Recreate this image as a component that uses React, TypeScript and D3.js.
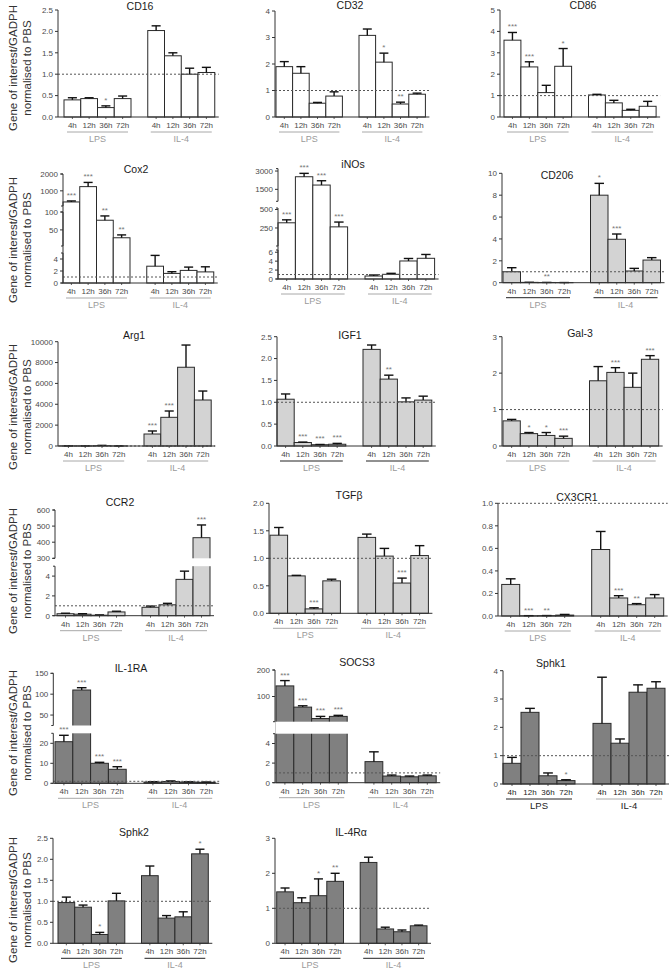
import React from 'react';
import * as d3 from 'd3';

const FONT = "'Liberation Sans', Arial, Helvetica, sans-serif";

const times = ['4h', '12h', '36h', '72h'];
const groups = ['LPS', 'IL-4'];

// ---------- data (means, SEM, significance) ----------
const cd16Mean = [0.40, 0.43, 0.22, 0.43, 2.02, 1.43, 1.00, 1.04];
const cd16Sem = [0.05, 0.02, 0.04, 0.06, 0.11, 0.07, 0.14, 0.12];
const cd16Stars = ['', '', '*', '', '', '', '', ''];
const cd16Ticks = [0, 0.5, 1, 1.5, 2, 2.5];

const cd32Mean = [1.90, 1.65, 0.52, 0.79, 3.08, 2.07, 0.49, 0.86];
const cd32Sem = [0.19, 0.25, 0.03, 0.16, 0.24, 0.34, 0.07, 0.04];
const cd32Stars = ['', '', '', '', '', '*', '**', ''];
const cd32Ticks = [0, 1, 2, 3, 4];

const cd86Mean = [3.59, 2.34, 1.14, 2.37, 1.03, 0.66, 0.31, 0.50];
const cd86Sem = [0.36, 0.24, 0.34, 0.83, 0.03, 0.12, 0.05, 0.23];
const cd86Stars = ['***', '***', '', '*', '', '', '', ''];
const cd86Ticks = [0, 1, 2, 3, 4, 5];

const cox2Mean = [340, 1250, 77, 28, 2.8, 1.6, 2.1, 1.85];
const cox2Sem = [60, 250, 12, 8, 1.8, 0.28, 0.55, 0.85];
const cox2Stars = ['***', '***', '**', '**', '', '', '', ''];
const cox2TicksLow = [0, 2, 4];
const cox2TicksMid = [50, 100];
const cox2TicksHigh = [1000, 2000];

const inosMean = [320, 2533, 1852, 265, 0.67, 1.05, 4.04, 4.64];
const inosSem = [40, 277, 353, 65, 0.23, 0.22, 0.56, 0.86];
const inosStars = ['***', '***', '***', '***', '', '', '', ''];
const inosTicksLow = [0, 2, 4, 6];
const inosTicksMid = [250, 500];
const inosTicksHigh = [1500, 3000];

const cd206Mean = [1.0, 0.03, 0.02, 0.01, 8.0, 3.97, 1.07, 2.07];
const cd206Sem = [0.37, 0.005, 0.005, 0.005, 1.08, 0.48, 0.24, 0.22];
const cd206Stars = ['', '', '**', '', '*', '***', '', ''];
const cd206Ticks = [0, 2, 4, 6, 8, 10];

const arg1Mean = [8, 6, 30, 6, 1150, 2750, 7550, 4410];
const arg1Sem = [2, 2, 30, 2, 290, 605, 2130, 860];
const arg1Stars = ['', '', '', '', '***', '***', '', ''];
const arg1Ticks = [0, 2000, 4000, 6000, 8000, 10000];

const igf1Mean = [1.07, 0.08, 0.03, 0.04, 2.21, 1.53, 1.01, 1.05];
const igf1Sem = [0.12, 0.01, 0.005, 0.02, 0.10, 0.09, 0.09, 0.09];
const igf1Stars = ['', '***', '***', '***', '', '**', '', ''];
const igf1Ticks = [0, 0.5, 1, 1.5, 2, 2.5];

const gal3Mean = [0.69, 0.34, 0.29, 0.21, 1.79, 2.02, 1.61, 2.38];
const gal3Sem = [0.04, 0.03, 0.08, 0.06, 0.39, 0.13, 0.39, 0.10];
const gal3Stars = ['', '*', '*', '***', '', '***', '', '***'];
const gal3Ticks = [0, 1, 2, 3];

const ccr2Mean = [0.2, 0.15, 0.05, 0.38, 0.85, 1.1, 3.67, 428];
const ccr2Sem = [0.05, 0.05, 0.03, 0.07, 0.12, 0.15, 0.83, 79];
const ccr2Stars = ['', '', '', '', '', '', '', '***'];
const ccr2TicksLow = [0, 2, 4];
const ccr2TicksHigh = [300, 400, 500, 600];

const tgfbMean = [1.42, 0.68, 0.08, 0.59, 1.38, 1.04, 0.55, 1.05];
const tgfbSem = [0.14, 0.01, 0.02, 0.03, 0.06, 0.14, 0.09, 0.18];
const tgfbStars = ['', '', '***', '', '', '', '***', ''];
const tgfbTicks = [0, 0.5, 1, 1.5, 2];

const cx3cr1Mean = [0.28, 0.002, 0.003, 0.008, 0.59, 0.16, 0.10, 0.16];
const cx3cr1Sem = [0.05, 0.001, 0.001, 0.006, 0.16, 0.02, 0.01, 0.03];
const cx3cr1Stars = ['', '***', '**', '', '', '***', '**', ''];
const cx3cr1Ticks = [0, 0.2, 0.4, 0.6, 0.8, 1.0];

const il1raMean = [20.8, 110, 10, 7, 0.6, 0.9, 0.6, 0.5];
const il1raSem = [3.2, 5.5, 0.5, 1.3, 0.2, 0.3, 0.15, 0.15];
const il1raStars = ['***', '***', '***', '***', '', '', '', ''];
const il1raTicksLow = [0, 10, 20];
const il1raTicksHigh = [50, 100, 150];

const socs3Mean = [140, 60, 17, 25, 2.15, 0.68, 0.6, 0.7];
const socs3Sem = [20, 5, 8, 4, 1.0, 0.1, 0.08, 0.08];
const socs3Stars = ['***', '***', '***', '***', '', '', '', ''];
const socs3TicksLow = [0, 2, 4];
const socs3TicksHigh = [100, 200];

const sphk1Mean = [0.73, 2.53, 0.29, 0.12, 2.14, 1.44, 3.24, 3.38];
const sphk1Sem = [0.21, 0.14, 0.10, 0.03, 1.63, 0.15, 0.26, 0.23];
const sphk1Stars = ['', '', '', '*', '', '', '', ''];
const sphk1Ticks = [0, 1, 2, 3, 4];

const sphk2Mean = [0.97, 0.86, 0.21, 1.01, 1.61, 0.60, 0.63, 2.13];
const sphk2Sem = [0.13, 0.05, 0.05, 0.18, 0.23, 0.06, 0.12, 0.11];
const sphk2Stars = ['', '', '*', '', '', '', '', '*'];
const sphk2Ticks = [0, 0.5, 1, 1.5, 2, 2.5];

const il4raMean = [1.47, 1.16, 1.36, 1.77, 2.31, 0.41, 0.33, 0.50];
const il4raSem = [0.11, 0.14, 0.48, 0.23, 0.15, 0.05, 0.05, 0.02];
const il4raStars = ['', '', '*', '**', '', '', '', ''];
const il4raTicks = [0, 1, 2, 3];

// ---------- layout ----------
type Seg = { domain: [number, number]; range: [number, number]; ticks: number[] };
type Panel = {
  title: string; mean: number[]; sem: number[]; stars: string[]; segs: Seg[];
  fmt: string; fill: string; axisX: number; x0: number; barW: number;
  titleX: number; titleY: number; whiteGaps?: boolean;
  lineCol?: [string, string]; strong?: boolean;
};

const WHITE = '#ffffff';
const LIGHT = '#d3d3d3';
const DARK = '#808080';
const GREYLINE = '#a8a8a8';
const BLACKLINE = '#222';

const panels: Panel[] = [
  { title: 'CD16', mean: cd16Mean, sem: cd16Sem, stars: cd16Stars, fmt: '.1f', fill: WHITE,
    segs: [{ domain: [0, 2.5], range: [117, 10], ticks: cd16Ticks }],
    axisX: 58, x0: 64, barW: 16.75, titleX: 140, titleY: 6 },
  { title: 'CD32', mean: cd32Mean, sem: cd32Sem, stars: cd32Stars, fmt: 'd', fill: WHITE,
    segs: [{ domain: [0, 4], range: [117, 11], ticks: cd32Ticks }],
    axisX: 275, x0: 276, barW: 16.6, titleX: 350, titleY: 5 },
  { title: 'CD86', mean: cd86Mean, sem: cd86Sem, stars: cd86Stars, fmt: 'd', fill: WHITE,
    segs: [{ domain: [0, 5], range: [117, 10], ticks: cd86Ticks }],
    axisX: 500, x0: 504, barW: 16.9, titleX: 583, titleY: 5 },
  { title: 'Cox2', mean: cox2Mean, sem: cox2Sem, stars: cox2Stars, fmt: 'd', fill: WHITE,
    segs: [
      { domain: [0, 5], range: [283, 253], ticks: cox2TicksLow },
      { domain: [5, 100], range: [246, 212], ticks: cox2TicksMid },
      { domain: [100, 2000], range: [206, 174], ticks: cox2TicksHigh },
    ],
    axisX: 63, x0: 63, barW: 16.75, titleX: 136, titleY: 169 },
  { title: 'iNOs', mean: inosMean, sem: inosSem, stars: inosStars, fmt: 'd', fill: WHITE,
    segs: [
      { domain: [0, 6.5], range: [279, 250], ticks: inosTicksLow },
      { domain: [6.5, 520], range: [246, 208], ticks: inosTicksMid },
      { domain: [520, 3200], range: [201.3, 168.6], ticks: inosTicksHigh },
    ],
    axisX: 278, x0: 278, barW: 17.4, titleX: 353, titleY: 164 },
  { title: 'CD206', mean: cd206Mean, sem: cd206Sem, stars: cd206Stars, fmt: 'd', fill: LIGHT,
    segs: [{ domain: [0, 10], range: [282.7, 173.3], ticks: cd206Ticks }],
    axisX: 502, x0: 503, barW: 17.5, titleX: 557, titleY: 175, lineCol: [BLACKLINE, BLACKLINE] },
  { title: 'Arg1', mean: arg1Mean, sem: arg1Sem, stars: arg1Stars, fmt: 'd', fill: LIGHT,
    segs: [{ domain: [0, 10000], range: [446, 341.7], ticks: arg1Ticks }],
    axisX: 58, x0: 60, barW: 16.8, titleX: 134, titleY: 335 },
  { title: 'IGF1', mean: igf1Mean, sem: igf1Sem, stars: igf1Stars, fmt: '.1f', fill: LIGHT,
    segs: [{ domain: [0, 2.5], range: [446, 336.7], ticks: igf1Ticks }],
    axisX: 277, x0: 277, barW: 17.2, titleX: 350, titleY: 335, lineCol: [BLACKLINE, BLACKLINE] },
  { title: 'Gal-3', mean: gal3Mean, sem: gal3Sem, stars: gal3Stars, fmt: 'd', fill: LIGHT,
    segs: [{ domain: [0, 3], range: [446, 336.7], ticks: gal3Ticks }],
    axisX: 502, x0: 503, barW: 17.3, titleX: 580, titleY: 333 },
  { title: 'CCR2', mean: ccr2Mean, sem: ccr2Sem, stars: ccr2Stars, fmt: 'd', fill: LIGHT, whiteGaps: true,
    segs: [
      { domain: [0, 5], range: [615.7, 566.2], ticks: ccr2TicksLow },
      { domain: [300, 600], range: [558.3, 510], ticks: ccr2TicksHigh },
    ],
    axisX: 55, x0: 57, barW: 17, titleX: 120, titleY: 502 },
  { title: 'TGFβ', mean: tgfbMean, sem: tgfbSem, stars: tgfbStars, fmt: '.1f', fill: LIGHT,
    segs: [{ domain: [0, 2], range: [613.3, 503.3], ticks: tgfbTicks }],
    axisX: 269, x0: 270, barW: 17.6, titleX: 349, titleY: 495 },
  { title: 'CX3CR1', mean: cx3cr1Mean, sem: cx3cr1Sem, stars: cx3cr1Stars, fmt: '.1f', fill: LIGHT,
    segs: [{ domain: [0, 1], range: [616, 503.3], ticks: cx3cr1Ticks }],
    axisX: 498, x0: 501.7, barW: 18, titleX: 577, titleY: 497 },
  { title: 'IL-1RA', mean: il1raMean, sem: il1raSem, stars: il1raStars, fmt: 'd', fill: DARK, whiteGaps: true,
    segs: [
      { domain: [0, 25], range: [783.3, 733.3], ticks: il1raTicksLow },
      { domain: [25, 150], range: [725.5, 673.3], ticks: il1raTicksHigh },
    ],
    axisX: 53.3, x0: 55, barW: 17.8, titleX: 131, titleY: 668 },
  { title: 'SOCS3', mean: socs3Mean, sem: socs3Sem, stars: socs3Stars, fmt: 'd', fill: DARK, whiteGaps: true,
    segs: [
      { domain: [0, 5], range: [782.7, 733.7], ticks: socs3TicksLow },
      { domain: [5, 200], range: [721.7, 670], ticks: socs3TicksHigh },
    ],
    axisX: 275, x0: 276, barW: 17.8, titleX: 357, titleY: 662 },
  { title: 'Sphk1', mean: sphk1Mean, sem: sphk1Sem, stars: sphk1Stars, fmt: 'd', fill: DARK,
    segs: [{ domain: [0, 4], range: [784, 670.7], ticks: sphk1Ticks }],
    axisX: 503, x0: 503, barW: 18, titleX: 551, titleY: 663, lineCol: [BLACKLINE, GREYLINE], strong: true },
  { title: 'Sphk2', mean: sphk2Mean, sem: sphk2Sem, stars: sphk2Stars, fmt: '.1f', fill: DARK,
    segs: [{ domain: [0, 2.5], range: [943.3, 838.3], ticks: sphk2Ticks }],
    axisX: 53, x0: 58, barW: 16.7, titleX: 134, titleY: 832, lineCol: [BLACKLINE, BLACKLINE] },
  { title: 'IL-4Rα', mean: il4raMean, sem: il4raSem, stars: il4raStars, fmt: 'd', fill: DARK,
    segs: [{ domain: [0, 3], range: [943.3, 838.3], ticks: il4raTicks }],
    axisX: 275, x0: 276.7, barW: 16.7, titleX: 351, titleY: 832, lineCol: [BLACKLINE, BLACKLINE] },
];

const rowLabelCenters = [68, 240, 407, 571, 733, 900];

const slots = ['L0', 'L1', 'L2', 'L3', 'gap', 'I0', 'I1', 'I2', 'I3'];
const barSlots = ['L0', 'L1', 'L2', 'L3', 'I0', 'I1', 'I2', 'I3'];

function PanelView({ p }: { p: Panel }) {
  const scales = p.segs.map((s) => d3.scaleLinear().domain(s.domain).range(s.range));
  const y = (v: number) => {
    for (let i = p.segs.length - 1; i > 0; i--) {
      if (v >= p.segs[i].domain[0]) return scales[i](v);
    }
    return scales[0](v);
  };
  const x = d3.scaleBand<string>().domain(slots).range([p.x0, p.x0 + 9 * p.barW]).padding(0);
  const bw = x.bandwidth();
  const base = p.segs[0].range[0];
  const end = p.x0 + 9 * p.barW + 4;
  const fmt = d3.format(p.fmt);
  const lineCol = p.lineCol || [GREYLINE, GREYLINE];
  const tickCol = p.strong ? '#222' : '#4a4a4a';
  const groupCol = p.strong ? '#222' : '#9a9a9a';

  const gaps: { y0: number; y1: number }[] = [];
  for (let i = 0; i < p.segs.length - 1; i++) {
    gaps.push({ y0: p.segs[i + 1].range[0], y1: p.segs[i].range[1] });
  }

  return (
    <g>
      <text x={p.titleX} y={p.titleY + 4} textAnchor="middle" fontSize={10.5} fill="#1a1a1a" fontFamily={FONT}>
        {p.title}
      </text>
      {barSlots.map((k, i) => {
        const yt = y(p.mean[i]);
        return (
          <rect key={k} x={x(k)!} y={yt} width={bw} height={Math.max(0, base - yt)}
            fill={p.fill} stroke="#2a2a2a" strokeWidth={1} />
        );
      })}
      {barSlots.map((k, i) => {
        const cx = x(k)! + bw / 2;
        const yt = y(p.mean[i]);
        const ye = y(p.mean[i] + p.sem[i]);
        return (
          <g key={'e' + k} stroke="#111" strokeWidth={1.4}>
            <line x1={cx} x2={cx} y1={yt} y2={ye} />
            <line x1={cx - bw * 0.27} x2={cx + bw * 0.27} y1={ye} y2={ye} />
          </g>
        );
      })}
      {p.whiteGaps && gaps.map((g, i) => (
        <rect key={'g' + i} x={p.axisX + 0.5} y={g.y0} width={end - p.axisX} height={g.y1 - g.y0} fill="#fff" />
      ))}
      <line x1={p.axisX} x2={end} y1={y(1)} y2={y(1)} stroke="#555" strokeWidth={1} strokeDasharray="2,2" />
      {barSlots.map((k, i) => p.stars[i] ? (
        <text key={'s' + k} x={x(k)! + bw / 2} y={y(p.mean[i] + p.sem[i]) - 3} textAnchor="middle"
          fontSize={8} fill="#777" fontFamily={FONT}>{p.stars[i]}</text>
      ) : null)}
      {p.segs.map((s, si) => (
        <g key={'ax' + si}>
          <line x1={p.axisX} x2={p.axisX} y1={s.range[0]} y2={s.range[1]} stroke="#333" strokeWidth={1} />
          {p.segs.length > 1 && (
            <>
              <line x1={p.axisX - 2} x2={p.axisX} y1={s.range[0]} y2={s.range[0]} stroke="#333" strokeWidth={1} />
              <line x1={p.axisX - 2} x2={p.axisX} y1={s.range[1]} y2={s.range[1]} stroke="#333" strokeWidth={1} />
            </>
          )}
          {s.ticks.map((t) => (
            <g key={t}>
              <line x1={p.axisX - 3} x2={p.axisX} y1={scales[si](t)} y2={scales[si](t)} stroke="#333" strokeWidth={1} />
              <text x={p.axisX - 5} y={scales[si](t) + 2.8} textAnchor="end" fontSize={8} fill="#4a4a4a" fontFamily={FONT}>
                {fmt(t)}
              </text>
            </g>
          ))}
        </g>
      ))}
      <line x1={p.axisX} x2={end} y1={base} y2={base} stroke="#333" strokeWidth={1} />
      {barSlots.map((k, i) => (
        <g key={'xt' + k}>
          <line x1={x(k)! + bw / 2} x2={x(k)! + bw / 2} y1={base} y2={base + 2} stroke="#333" strokeWidth={0.8} />
          <text x={x(k)! + bw / 2} y={base + 11} textAnchor="middle" fontSize={8} fill={tickCol}
            fontFamily={FONT}>{times[i % 4]}</text>
        </g>
      ))}
      {groups.map((gname, gi) => {
        const a = x(gi === 0 ? 'L0' : 'I0')! + 3;
        const b = x(gi === 0 ? 'L3' : 'I3')! + bw - 3;
        return (
          <g key={gname}>
            <line x1={a} x2={b} y1={base + 15} y2={base + 15} stroke={lineCol[gi]} strokeWidth={1} />
            <text x={(a + b) / 2} y={base + 25} textAnchor="middle" fontSize={p.strong ? 9.5 : 9}
              fill={groupCol} fontFamily={FONT}>{gname}</text>
          </g>
        );
      })}
    </g>
  );
}

export default function App() {
  return (
    <svg width={671} height={969} style={{ position: 'absolute', left: 0, top: 0, background: '#fff' }}
      fontFamily={FONT}>
      <rect x={0} y={0} width={671} height={969} fill="#fff" />
      {rowLabelCenters.map((cy, i) => (
        <g key={'yl' + i} fill="#333" fontSize={11.5} fontFamily={FONT}>
          <text transform={`translate(17,${cy}) rotate(-90)`} textAnchor="middle">Gene of interest/GADPH</text>
          <text transform={`translate(31,${cy}) rotate(-90)`} textAnchor="middle">normalised to PBS</text>
        </g>
      ))}
      {panels.map((p) => <PanelView key={p.title} p={p} />)}
    </svg>
  );
}
